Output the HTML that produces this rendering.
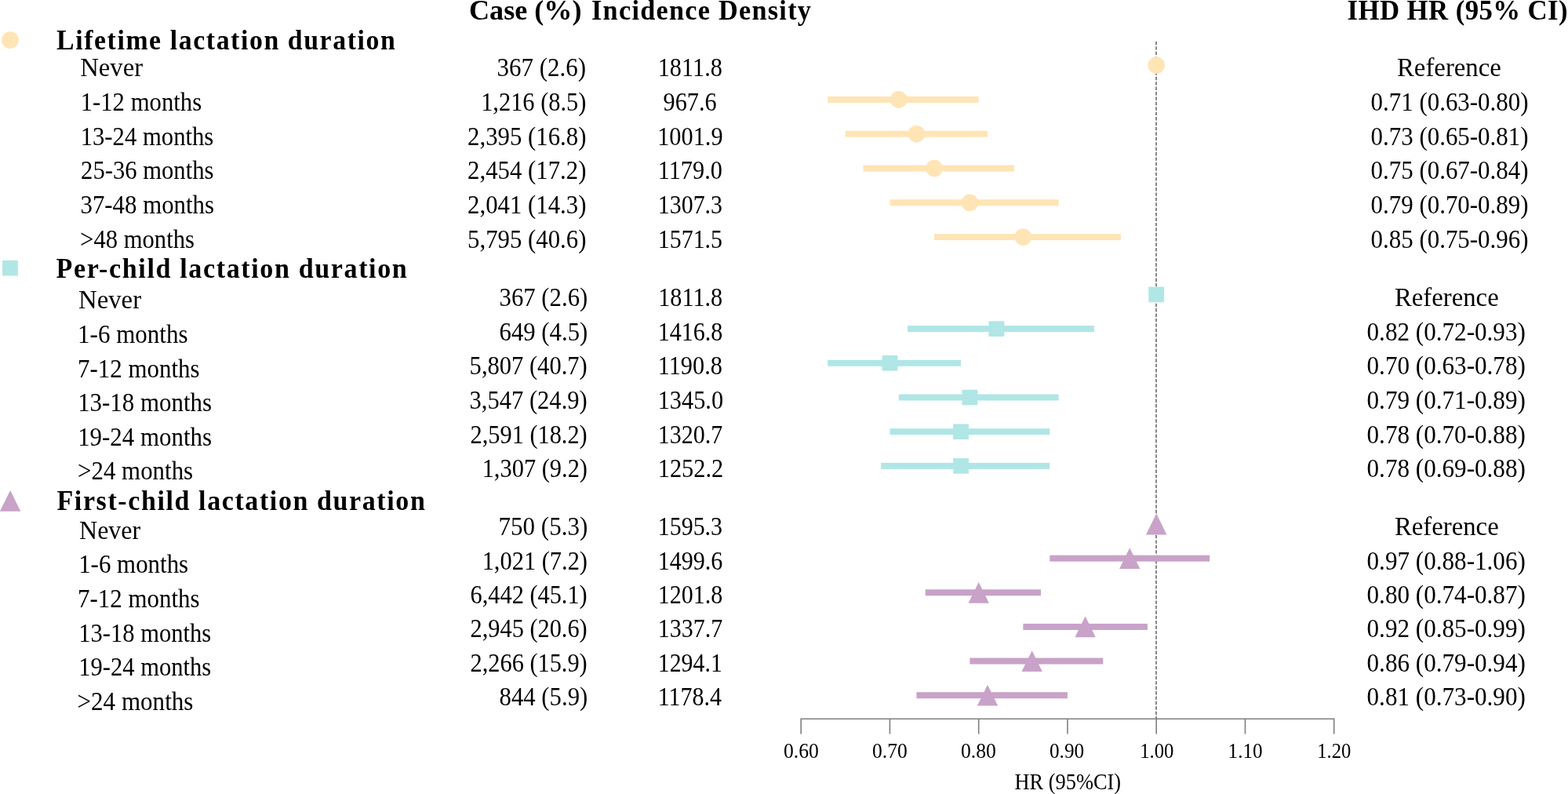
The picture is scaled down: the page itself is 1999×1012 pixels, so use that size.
<!DOCTYPE html>
<html lang="en"><head><meta charset="utf-8"><title>Lactation duration and ischemic heart disease: forest plot</title>
<style>
html,body{margin:0;padding:0;background:#fff;width:1999px;height:1012px;overflow:hidden}
svg{display:block}
text{font-family:"Liberation Serif","Times New Roman",Times,serif;fill:#000}
.r{font-size:32.7px}.b{font-size:35.4px;font-weight:bold}.h{font-size:36px;font-weight:bold}.t{font-size:26.5px}.x{font-size:29.2px}
</style></head><body>
<svg width="1999" height="1012" viewBox="0 0 1999 1012">
<line x1="1474.0" y1="52.8" x2="1474.0" y2="916" stroke="#7a7a7a" stroke-width="1.8" stroke-dasharray="4.4 2.02"/>
<circle cx="1474.20" cy="83.10" r="10.8" fill="#FFE4B5"/>
<rect x="1055.18" y="122.90" width="192.52" height="8.0" fill="#FFE4B5"/>
<circle cx="1145.78" cy="126.90" r="10.8" fill="#FFE4B5"/>
<rect x="1077.83" y="166.70" width="181.20" height="8.0" fill="#FFE4B5"/>
<circle cx="1168.42" cy="170.70" r="10.8" fill="#FFE4B5"/>
<rect x="1100.48" y="210.50" width="192.52" height="8.0" fill="#FFE4B5"/>
<circle cx="1191.08" cy="214.50" r="10.8" fill="#FFE4B5"/>
<rect x="1134.45" y="254.30" width="215.17" height="8.0" fill="#FFE4B5"/>
<circle cx="1236.38" cy="258.30" r="10.8" fill="#FFE4B5"/>
<rect x="1191.08" y="298.10" width="237.83" height="8.0" fill="#FFE4B5"/>
<circle cx="1304.33" cy="302.10" r="10.8" fill="#FFE4B5"/>
<rect x="1464.30" y="365.60" width="19.8" height="19.6" fill="#B0E6E6"/>
<rect x="1157.10" y="415.10" width="237.83" height="8.0" fill="#B0E6E6"/>
<rect x="1260.45" y="409.30" width="19.8" height="19.6" fill="#B0E6E6"/>
<rect x="1055.18" y="458.80" width="169.88" height="8.0" fill="#B0E6E6"/>
<rect x="1124.55" y="453.00" width="19.8" height="19.6" fill="#B0E6E6"/>
<rect x="1145.78" y="502.50" width="203.85" height="8.0" fill="#B0E6E6"/>
<rect x="1226.47" y="496.70" width="19.8" height="19.6" fill="#B0E6E6"/>
<rect x="1134.45" y="546.20" width="203.85" height="8.0" fill="#B0E6E6"/>
<rect x="1215.15" y="540.40" width="19.8" height="19.6" fill="#B0E6E6"/>
<rect x="1123.12" y="589.90" width="215.18" height="8.0" fill="#B0E6E6"/>
<rect x="1215.15" y="584.10" width="19.8" height="19.6" fill="#B0E6E6"/>
<polygon points="1474.20,654.60 1487.40,681.40 1461.00,681.40" fill="#C8A2C8"/>
<rect x="1338.30" y="707.64" width="203.85" height="8.0" fill="#C8A2C8"/>
<polygon points="1440.22,698.24 1453.42,725.04 1427.02,725.04" fill="#C8A2C8"/>
<rect x="1179.75" y="751.28" width="147.23" height="8.0" fill="#C8A2C8"/>
<polygon points="1247.70,741.88 1260.90,768.68 1234.50,768.68" fill="#C8A2C8"/>
<rect x="1304.33" y="794.92" width="158.55" height="8.0" fill="#C8A2C8"/>
<polygon points="1383.60,785.52 1396.80,812.32 1370.40,812.32" fill="#C8A2C8"/>
<rect x="1236.38" y="838.56" width="169.88" height="8.0" fill="#C8A2C8"/>
<polygon points="1315.65,829.16 1328.85,855.96 1302.45,855.96" fill="#C8A2C8"/>
<rect x="1168.42" y="882.20" width="192.53" height="8.0" fill="#C8A2C8"/>
<polygon points="1259.03,872.80 1272.23,899.60 1245.83,899.60" fill="#C8A2C8"/>
<circle cx="12.90" cy="51.00" r="10.8" fill="#FFE4B5"/>
<rect x="3.05" y="331.90" width="19.8" height="19.6" fill="#B0E6E6"/>
<polygon points="13.10,625.10 26.30,651.70 -0.10,651.70" fill="#C8A2C8"/>
<path d="M1021.20 935.5V916.2H1700.70V935.5" fill="none" stroke="#7f7f7f" stroke-width="1.6"/>
<line x1="1134.45" y1="916.2" x2="1134.45" y2="935.5" stroke="#7f7f7f" stroke-width="1.6"/>
<line x1="1247.70" y1="916.2" x2="1247.70" y2="935.5" stroke="#7f7f7f" stroke-width="1.6"/>
<line x1="1360.95" y1="916.2" x2="1360.95" y2="935.5" stroke="#7f7f7f" stroke-width="1.6"/>
<line x1="1474.20" y1="916.2" x2="1474.20" y2="935.5" stroke="#7f7f7f" stroke-width="1.6"/>
<line x1="1587.45" y1="916.2" x2="1587.45" y2="935.5" stroke="#7f7f7f" stroke-width="1.6"/>
<text class="b" x="597.98" y="25.3" textLength="143.61" lengthAdjust="spacingAndGlyphs">Case (%)</text>
<text class="b" x="754.03" y="24.9" letter-spacing="1.3" textLength="281.19" lengthAdjust="spacingAndGlyphs">Incidence Density</text>
<text class="b" x="1717.52" y="24.8" letter-spacing="0.4" textLength="281.51" lengthAdjust="spacingAndGlyphs">IHD HR (95% CI)</text>
<text class="h" x="72.05" y="63.2" letter-spacing="1.7" textLength="433.28" lengthAdjust="spacingAndGlyphs">Lifetime lactation duration</text>
<text class="h" x="71.49" y="353.8" letter-spacing="1.7" textLength="448.93" lengthAdjust="spacingAndGlyphs">Per-child lactation duration</text>
<text class="h" x="72.51" y="649.5" letter-spacing="1.7" textLength="470.89" lengthAdjust="spacingAndGlyphs">First-child lactation duration</text>
<text class="r" x="102.24" y="96.9" textLength="79.88" lengthAdjust="spacingAndGlyphs">Never</text>
<text class="r" x="102.65" y="140.8" textLength="154.56" lengthAdjust="spacingAndGlyphs">1-12 months</text>
<text class="r" x="102.65" y="184.8" textLength="169.68" lengthAdjust="spacingAndGlyphs">13-24 months</text>
<text class="r" x="103.08" y="228.2" textLength="169.34" lengthAdjust="spacingAndGlyphs">25-36 months</text>
<text class="r" x="102.54" y="271.8" textLength="170.42" lengthAdjust="spacingAndGlyphs">37-48 months</text>
<text class="r" x="102.11" y="315.5" textLength="145.81" lengthAdjust="spacingAndGlyphs">&gt;48 months</text>
<text class="r" x="99.99" y="393.1" textLength="80.08" lengthAdjust="spacingAndGlyphs">Never</text>
<text class="r" x="99.11" y="436.7" textLength="140.47" lengthAdjust="spacingAndGlyphs">1-6 months</text>
<text class="r" x="99.06" y="480.5" textLength="155.43" lengthAdjust="spacingAndGlyphs">7-12 months</text>
<text class="r" x="99.13" y="524.1" textLength="170.91" lengthAdjust="spacingAndGlyphs">13-18 months</text>
<text class="r" x="99.13" y="567.9" textLength="170.91" lengthAdjust="spacingAndGlyphs">19-24 months</text>
<text class="r" x="99.06" y="611.0" textLength="147.08" lengthAdjust="spacingAndGlyphs">&gt;24 months</text>
<text class="r" x="101.01" y="686.5" textLength="78.25" lengthAdjust="spacingAndGlyphs">Never</text>
<text class="r" x="100.15" y="730.3" textLength="140.00" lengthAdjust="spacingAndGlyphs">1-6 months</text>
<text class="r" x="99.09" y="774.2" textLength="155.44" lengthAdjust="spacingAndGlyphs">7-12 months</text>
<text class="r" x="100.18" y="817.7" textLength="169.07" lengthAdjust="spacingAndGlyphs">13-18 months</text>
<text class="r" x="100.18" y="861.2" textLength="169.07" lengthAdjust="spacingAndGlyphs">19-24 months</text>
<text class="r" x="98.54" y="905.0" textLength="147.89" lengthAdjust="spacingAndGlyphs">&gt;24 months</text>
<text class="r" x="633.56" y="96.9" textLength="113.55" lengthAdjust="spacingAndGlyphs">367 (2.6)</text>
<text class="r" x="613.15" y="140.6" textLength="134.33" lengthAdjust="spacingAndGlyphs">1,216 (8.5)</text>
<text class="r" x="596.09" y="184.8" textLength="151.35" lengthAdjust="spacingAndGlyphs">2,395 (16.8)</text>
<text class="r" x="596.09" y="228.0" textLength="151.35" lengthAdjust="spacingAndGlyphs">2,454 (17.2)</text>
<text class="r" x="596.09" y="271.8" textLength="151.35" lengthAdjust="spacingAndGlyphs">2,041 (14.3)</text>
<text class="r" x="596.09" y="315.5" textLength="151.36" lengthAdjust="spacingAndGlyphs">5,795 (40.6)</text>
<text class="r" x="636.59" y="390.0" textLength="112.68" lengthAdjust="spacingAndGlyphs">367 (2.6)</text>
<text class="r" x="636.59" y="433.5" textLength="112.68" lengthAdjust="spacingAndGlyphs">649 (4.5)</text>
<text class="r" x="598.62" y="477.2" textLength="150.13" lengthAdjust="spacingAndGlyphs">5,807 (40.7)</text>
<text class="r" x="598.55" y="520.7" textLength="150.20" lengthAdjust="spacingAndGlyphs">3,547 (24.9)</text>
<text class="r" x="599.56" y="564.5" textLength="149.18" lengthAdjust="spacingAndGlyphs">2,591 (18.2)</text>
<text class="r" x="614.66" y="608.0" textLength="134.33" lengthAdjust="spacingAndGlyphs">1,307 (9.2)</text>
<text class="r" x="635.57" y="681.5" textLength="113.70" lengthAdjust="spacingAndGlyphs">750 (5.3)</text>
<text class="r" x="614.66" y="725.7" textLength="134.33" lengthAdjust="spacingAndGlyphs">1,021 (7.2)</text>
<text class="r" x="599.56" y="768.6" textLength="149.18" lengthAdjust="spacingAndGlyphs">6,442 (45.1)</text>
<text class="r" x="599.56" y="812.0" textLength="149.18" lengthAdjust="spacingAndGlyphs">2,945 (20.6)</text>
<text class="r" x="599.56" y="855.6" textLength="149.18" lengthAdjust="spacingAndGlyphs">2,266 (15.9)</text>
<text class="r" x="636.53" y="899.1" textLength="112.74" lengthAdjust="spacingAndGlyphs">844 (5.9)</text>
<text class="r" x="838.69" y="96.9" textLength="82.22" lengthAdjust="spacingAndGlyphs">1811.8</text>
<text class="r" x="845.57" y="140.6" textLength="68.04" lengthAdjust="spacingAndGlyphs">967.6</text>
<text class="r" x="838.15" y="184.8" textLength="83.49" lengthAdjust="spacingAndGlyphs">1001.9</text>
<text class="r" x="838.69" y="228.0" textLength="82.22" lengthAdjust="spacingAndGlyphs">1179.0</text>
<text class="r" x="838.72" y="271.8" textLength="82.37" lengthAdjust="spacingAndGlyphs">1307.3</text>
<text class="r" x="838.72" y="315.5" textLength="82.37" lengthAdjust="spacingAndGlyphs">1571.5</text>
<text class="r" x="839.18" y="390.0" textLength="82.01" lengthAdjust="spacingAndGlyphs">1811.8</text>
<text class="r" x="838.71" y="433.5" textLength="82.58" lengthAdjust="spacingAndGlyphs">1416.8</text>
<text class="r" x="838.69" y="477.2" textLength="82.22" lengthAdjust="spacingAndGlyphs">1190.8</text>
<text class="r" x="838.69" y="520.7" textLength="83.41" lengthAdjust="spacingAndGlyphs">1345.0</text>
<text class="r" x="838.71" y="564.5" textLength="82.58" lengthAdjust="spacingAndGlyphs">1320.7</text>
<text class="r" x="838.69" y="608.0" textLength="83.63" lengthAdjust="spacingAndGlyphs">1252.2</text>
<text class="r" x="838.72" y="681.5" textLength="82.37" lengthAdjust="spacingAndGlyphs">1595.3</text>
<text class="r" x="838.71" y="725.7" textLength="82.58" lengthAdjust="spacingAndGlyphs">1499.6</text>
<text class="r" x="838.71" y="768.6" textLength="82.58" lengthAdjust="spacingAndGlyphs">1201.8</text>
<text class="r" x="838.71" y="812.0" textLength="82.58" lengthAdjust="spacingAndGlyphs">1337.7</text>
<text class="r" x="838.74" y="855.6" textLength="82.07" lengthAdjust="spacingAndGlyphs">1294.1</text>
<text class="r" x="838.72" y="899.1" textLength="81.27" lengthAdjust="spacingAndGlyphs">1178.4</text>
<text class="r" x="1781.00" y="96.9" textLength="132.88" lengthAdjust="spacingAndGlyphs">Reference</text>
<text class="r" x="1747.55" y="140.6" textLength="200.96" lengthAdjust="spacingAndGlyphs">0.71 (0.63-0.80)</text>
<text class="r" x="1747.55" y="184.8" textLength="200.96" lengthAdjust="spacingAndGlyphs">0.73 (0.65-0.81)</text>
<text class="r" x="1747.55" y="228.0" textLength="200.96" lengthAdjust="spacingAndGlyphs">0.75 (0.67-0.84)</text>
<text class="r" x="1747.55" y="271.8" textLength="200.96" lengthAdjust="spacingAndGlyphs">0.79 (0.70-0.89)</text>
<text class="r" x="1747.55" y="315.5" textLength="200.96" lengthAdjust="spacingAndGlyphs">0.85 (0.75-0.96)</text>
<text class="r" x="1778.00" y="390.0" textLength="132.67" lengthAdjust="spacingAndGlyphs">Reference</text>
<text class="r" x="1742.55" y="433.5" textLength="202.32" lengthAdjust="spacingAndGlyphs">0.82 (0.72-0.93)</text>
<text class="r" x="1742.55" y="477.2" textLength="202.32" lengthAdjust="spacingAndGlyphs">0.70 (0.63-0.78)</text>
<text class="r" x="1742.55" y="520.7" textLength="202.32" lengthAdjust="spacingAndGlyphs">0.79 (0.71-0.89)</text>
<text class="r" x="1742.55" y="564.5" textLength="202.32" lengthAdjust="spacingAndGlyphs">0.78 (0.70-0.88)</text>
<text class="r" x="1742.55" y="608.0" textLength="202.32" lengthAdjust="spacingAndGlyphs">0.78 (0.69-0.88)</text>
<text class="r" x="1778.00" y="681.5" textLength="132.67" lengthAdjust="spacingAndGlyphs">Reference</text>
<text class="r" x="1742.55" y="725.7" textLength="202.32" lengthAdjust="spacingAndGlyphs">0.97 (0.88-1.06)</text>
<text class="r" x="1742.55" y="768.6" textLength="202.32" lengthAdjust="spacingAndGlyphs">0.80 (0.74-0.87)</text>
<text class="r" x="1742.55" y="812.0" textLength="202.32" lengthAdjust="spacingAndGlyphs">0.92 (0.85-0.99)</text>
<text class="r" x="1742.55" y="855.6" textLength="202.32" lengthAdjust="spacingAndGlyphs">0.86 (0.79-0.94)</text>
<text class="r" x="1742.55" y="899.1" textLength="202.32" lengthAdjust="spacingAndGlyphs">0.81 (0.73-0.90)</text>
<text class="t" x="999.00" y="966.3" textLength="44.94" lengthAdjust="spacingAndGlyphs">0.60</text>
<text class="t" x="1112.01" y="966.3" textLength="44.73" lengthAdjust="spacingAndGlyphs">0.70</text>
<text class="t" x="1225.00" y="966.3" textLength="44.94" lengthAdjust="spacingAndGlyphs">0.80</text>
<text class="t" x="1338.01" y="966.3" textLength="44.14" lengthAdjust="spacingAndGlyphs">0.90</text>
<text class="t" x="1453.14" y="966.3" textLength="43.23" lengthAdjust="spacingAndGlyphs">1.00</text>
<text class="t" x="1565.58" y="966.3" textLength="44.06" lengthAdjust="spacingAndGlyphs">1.10</text>
<text class="t" x="1679.17" y="966.3" textLength="43.15" lengthAdjust="spacingAndGlyphs">1.20</text>
<text class="x" x="1293.57" y="1005.9" textLength="135.60" lengthAdjust="spacingAndGlyphs">HR (95%CI)</text>
</svg>
</body></html>
